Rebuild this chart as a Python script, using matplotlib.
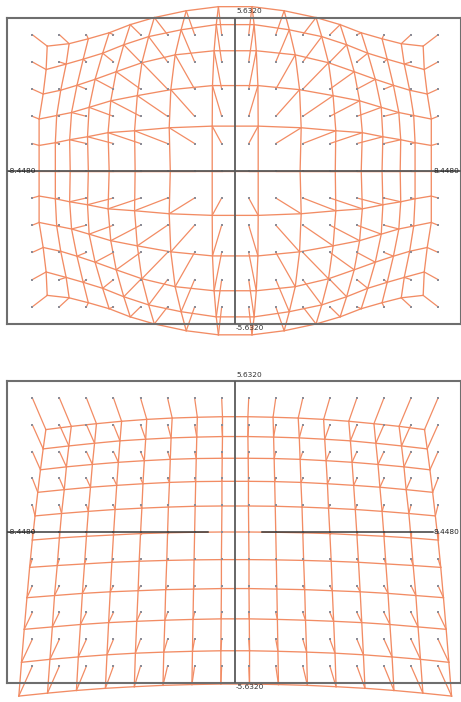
import matplotlib.pyplot as plt
import numpy as np

# ideal calibration grid (grey dots)
grid_cols = [-7.5, -6.5, -5.5, -4.5, -3.5, -2.5, -1.5, -0.5,
             0.5, 1.5, 2.5, 3.5, 4.5, 5.5, 6.5, 7.5]
grid_rows = [5, 4, 3, 2, 1, 0, -1, -2, -3, -4, -5]

x_lim = 8.448
y_lim = 5.632

# top panel: distorted positions, upper-left quarter
# rows 5..0, columns 7.5..0.5 (x given as distance from centre)
top_x = [
    [6.95, 6.14, 5.43, 4.66, 3.88, 2.99, 1.81, 0.62],
    [6.99, 6.25, 5.62, 4.90, 4.12, 3.20, 2.00, 0.70],
    [7.10, 6.45, 5.85, 5.18, 4.40, 3.45, 2.22, 0.78],
    [7.25, 6.60, 6.05, 5.40, 4.60, 3.62, 2.38, 0.84],
    [7.25, 6.65, 6.12, 5.46, 4.70, 3.72, 2.44, 0.85],
    [7.25, 6.65, 6.10, 5.43, 4.66, 3.70, 2.40, 0.85],
]
top_y = [
    [4.58, 4.67, 4.85, 5.07, 5.37, 5.63, 5.88, 6.03],
    [3.72, 3.92, 4.10, 4.32, 4.63, 4.93, 5.18, 5.37],
    [2.82, 2.96, 3.14, 3.36, 3.64, 3.97, 4.26, 4.41],
    [1.90, 2.03, 2.14, 2.33, 2.57, 2.76, 2.98, 3.13],
    [0.93, 1.03, 1.14, 1.25, 1.40, 1.47, 1.58, 1.64],
    [0.00, 0.00, 0.00, 0.00, 0.00, 0.00, 0.00, 0.00],
]

# bottom panel: distorted positions, left half
# rows 5..-5, columns 7.5..0.5 (x given as distance from centre)
bot_x = [
    [7.00, 6.06, 5.13, 4.20, 3.27, 2.33, 1.40, 0.47],
    [7.10, 6.15, 5.20, 4.26, 3.31, 2.37, 1.42, 0.47],
    [7.20, 6.24, 5.28, 4.32, 3.36, 2.40, 1.44, 0.48],
    [7.30, 6.32, 5.35, 4.38, 3.41, 2.43, 1.46, 0.49],
    [7.40, 6.42, 5.43, 4.44, 3.45, 2.47, 1.48, 0.49],
    [7.50, 6.50, 5.50, 4.50, 3.50, 2.50, 1.50, 0.50],
    [7.60, 6.58, 5.57, 4.56, 3.55, 2.53, 1.52, 0.51],
    [7.70, 6.68, 5.65, 4.62, 3.59, 2.57, 1.54, 0.51],
    [7.80, 6.76, 5.72, 4.68, 3.64, 2.60, 1.56, 0.52],
    [7.90, 6.85, 5.80, 4.74, 3.69, 2.64, 1.58, 0.53],
    [8.00, 6.94, 5.87, 4.80, 3.73, 2.67, 1.60, 0.53],
]
bot_y = [
    [3.82, 3.94, 4.04, 4.13, 4.20, 4.25, 4.28, 4.30],
    [3.10, 3.21, 3.31, 3.40, 3.46, 3.51, 3.54, 3.56],
    [2.32, 2.43, 2.52, 2.60, 2.66, 2.71, 2.74, 2.75],
    [1.48, 1.58, 1.67, 1.74, 1.80, 1.85, 1.88, 1.89],
    [0.60, 0.69, 0.77, 0.84, 0.89, 0.93, 0.96, 0.97],
    [-0.30, -0.22, -0.16, -0.11, -0.06, -0.03, -0.01, 0.00],
    [-1.32, -1.25, -1.19, -1.13, -1.09, -1.06, -1.04, -1.03],
    [-2.45, -2.37, -2.29, -2.23, -2.19, -2.15, -2.13, -2.11],
    [-3.63, -3.54, -3.45, -3.38, -3.33, -3.29, -3.26, -3.24],
    [-4.86, -4.75, -4.66, -4.58, -4.52, -4.48, -4.45, -4.43],
    [-6.12, -6.01, -5.91, -5.83, -5.77, -5.72, -5.69, -5.67],
]

ORANGE = '#f28c64'
DOT = '#8c8c96'
AXIS = '#6e6e6e'


def mirror_lr(hx, hy):
    hx = np.array(hx)
    hy = np.array(hy)
    X = np.hstack([-hx, hx[:, ::-1]])
    Y = np.hstack([hy, hy[:, ::-1]])
    return X, Y


# top: symmetric in both directions
tX, tY = mirror_lr(top_x, top_y)
tX = np.vstack([tX, tX[-2::-1]])
tY = np.vstack([tY, -tY[-2::-1]])

bX, bY = mirror_lr(bot_x, bot_y)

gX, gY = np.meshgrid(grid_cols, grid_rows)

fig = plt.figure(figsize=(4.61, 7.02), dpi=100)
ax_top = fig.add_axes([6.7 / 461, (702 - 324) / 702, 453.8 / 461, 306.5 / 702])
ax_bot = fig.add_axes([6.7 / 461, (702 - 683) / 702, 453.8 / 461, 302 / 702])


def draw(ax, X, Y, split_axis=False):
    # distorted grid
    for i in range(X.shape[0]):
        ax.plot(X[i], Y[i], color=ORANGE, lw=0.95, clip_on=False, zorder=2)
    for j in range(X.shape[1]):
        ax.plot(X[:, j], Y[:, j], color=ORANGE, lw=0.95, clip_on=False, zorder=2)
    # displacement of every grid point
    for i in range(X.shape[0]):
        for j in range(X.shape[1]):
            ax.plot([gX[i, j], X[i, j]], [gY[i, j], Y[i, j]],
                    color=ORANGE, lw=0.9, clip_on=False, zorder=2)
    ax.scatter(gX.ravel(), gY.ravel(), s=2.5, color=DOT, marker='s',
               linewidths=0, zorder=3)

    ax.axvline(0, color='#5a5a5a', lw=1.3, zorder=4)
    if split_axis:
        ax.plot([-x_lim, -1.02], [0, 0], color='#3a3a3a', lw=1.1, zorder=4)
        ax.plot([0.98, 7.3], [0, 0], color='#3a3a3a', lw=1.1, zorder=4)
    else:
        ax.axhline(0, color='#5a5a5a', lw=1.3, zorder=4)

    ax.set_xlim(-x_lim, 8.33)
    ax.set_ylim(-y_lim, y_lim)
    ax.set_xticks([])
    ax.set_yticks([])
    for s in ax.spines.values():
        s.set_color(AXIS)
        s.set_linewidth(1.5)
    ax.set_facecolor('white')

    fs = 5.3
    ax.text(0.05, y_lim + 0.12, '5.6320', fontsize=fs, color='#333333',
            ha='left', va='bottom', clip_on=False)
    ax.text(0.0, -y_lim - 0.05, '-5.6320', fontsize=fs, color='#333333',
            ha='left', va='top', clip_on=False)
    ax.text(-x_lim + 0.02, 0, '-8.4480', fontsize=fs, color='#222222',
            ha='left', va='center', zorder=5)
    ax.text(8.3, 0, '8.4480', fontsize=fs, color='#222222',
            ha='right', va='center', zorder=5)


draw(ax_top, tX, tY)
draw(ax_bot, bX, bY, split_axis=True)

fig.savefig('out.png', dpi=100)
